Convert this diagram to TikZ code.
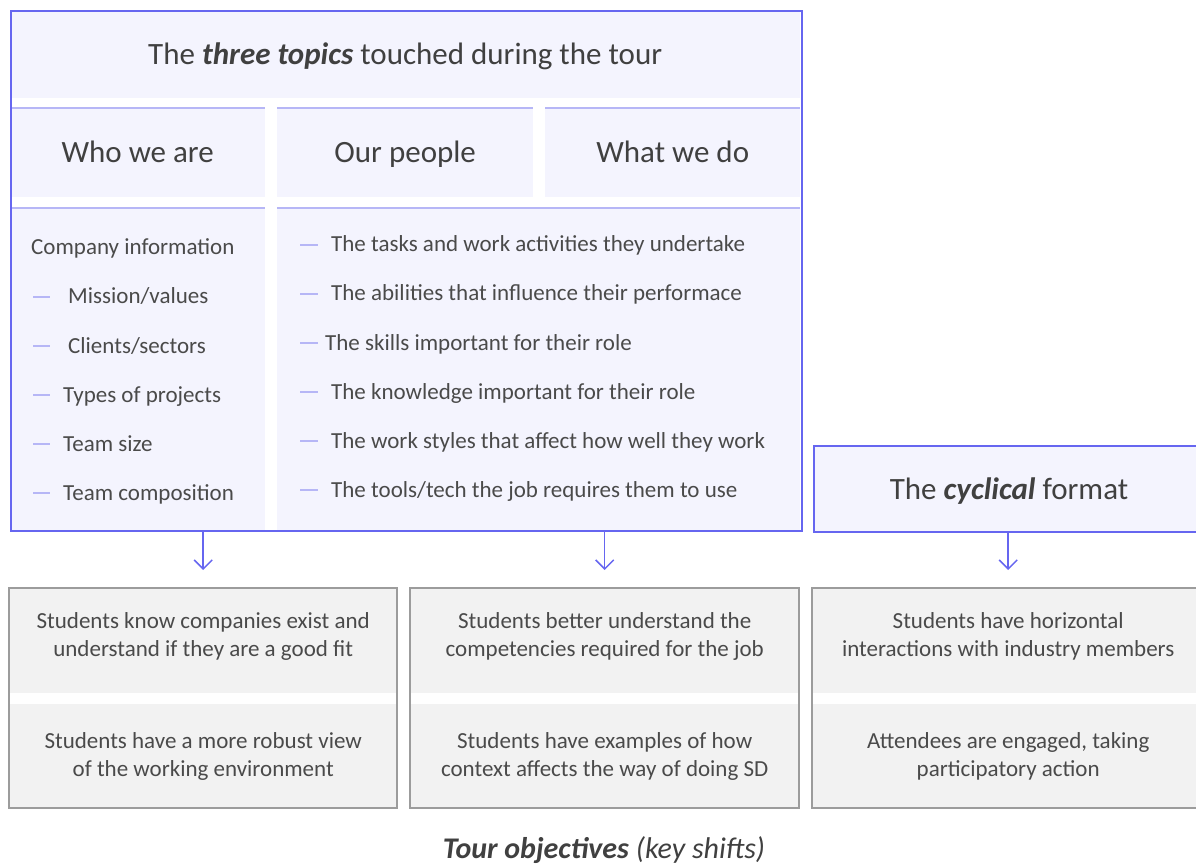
\documentclass[tikz,border=0pt]{standalone}
\usepackage{fontspec}
\setmainfont{Carlito}
\usetikzlibrary{positioning,arrows.meta}

\definecolor{tourblue}{HTML}{6666F0}
\definecolor{lavender}{HTML}{F4F4FE}
\definecolor{paleline}{HTML}{B6B6F6}
\definecolor{shiftgray}{HTML}{F2F2F2}
\definecolor{shiftline}{HTML}{9C9C9C}
\definecolor{textgray}{HTML}{404040}
\definecolor{listgray}{HTML}{4A4A4A}

\begin{document}
\begin{tikzpicture}[x=1pt, y=-1pt,
			cell/.style={fill=lavender, inner sep=0pt, anchor=north west, text=textgray},
			headfont/.style={font=\fontsize{31}{36}\selectfont, text height=21pt, text depth=1pt},
			listtext/.style={anchor=base west, inner sep=0pt, text=listgray, font=\fontsize{23}{27}\selectfont},
			dashmark/.style={draw=paleline, line width=1.5pt},
			shiftbox/.style={fill=shiftgray, inner sep=0pt, anchor=north west, align=center, text=listgray, font=\fontsize{23}{28}\selectfont},
			shiftframe/.style={draw=shiftline, line width=2pt},
			arrowline/.style={draw=tourblue, line width=1.5pt, -{Straight Barb[length=9pt, width=18pt]}, shorten >=18pt},
			]
			\useasboundingbox (0,0) rectangle (1196,866);
			
			%Topics block
			\node[cell, headfont, minimum width=790pt, minimum height=88pt] (title) at (10,10) {The \textbf{\textit{three topics}} touched during the tour};
			\node[cell, headfont, minimum width=255pt, minimum height=89pt] (who)  at (10,108)  {Who we are};
			\node[cell, headfont, minimum width=256pt, minimum height=89pt] (people) at (277,108) {Our people};
			\node[cell, headfont, minimum width=255pt, minimum height=89pt] (what) at (545,108) {What we do};
			\node[cell, minimum width=255pt, minimum height=322pt] (whobody)    at (10,208)  {};
			\node[cell, minimum width=523pt, minimum height=322pt] (peoplebody) at (277,208) {};
			\foreach \c in {who, people, what, whobody, peoplebody}
				\draw[paleline, line width=1.5pt] (\c.north west) -- (\c.north east);
			\node[draw=tourblue, line width=2pt, minimum width=791pt, minimum height=520pt, anchor=north west, inner sep=0pt] (topics) at (9.5,10) {};
			
			%Who we are list
			\node[listtext] (info) at (31,255) {Company information};
			\foreach \txt/\xpos [count=\i] in {{Mission/values}/68, {Clients/sectors}/68, {Types of projects}/63, {Team size}/63, {Team composition}/63}{
				\draw[dashmark] (33,248+49*\i) -- (50,248+49*\i);
				\node[listtext] (who\i) at (\xpos,255+49*\i) {\txt};
			}
			
			%Our people list
			\foreach \txt/\xpos [count=\i] in {{The tasks and work activities they undertake}/331, {The abilities that influence their performace}/331, {The skills important for their role}/325, {The knowledge important for their role}/331, {The work styles that affect how well they work}/331, {The tools/tech the job requires them to use}/331}{
				\draw[dashmark] (300,245+49*\i-49) -- (318,245+49*\i-49);
				\node[listtext] (people\i) at (\xpos,252+49*\i-49) {\txt};
			}
			
			%Cyclical format
			\node[cell, headfont, draw=tourblue, line width=2pt, minimum width=390pt, minimum height=86pt] (cycle) at (813,445) {The \textbf{\textit{cyclical}} format};
			
			%Key shifts
			\node[shiftbox, minimum width=388pt, minimum height=105pt, text depth=12pt] (shiftA1) at (9,588)   {Students know companies exist and\\understand if they are a good fit};
			\node[shiftbox, minimum width=388pt, minimum height=104pt] (shiftA2) at (9,704)   {Students have a more robust view\\of the working environment};
			\node[shiftbox, minimum width=389pt, minimum height=105pt, text depth=12pt] (shiftB1) at (410,588) {Students better understand the\\competencies required for the job};
			\node[shiftbox, minimum width=389pt, minimum height=104pt] (shiftB2) at (410,704) {Students have examples of how\\context affects the way of doing SD};
			\node[shiftbox, minimum width=392pt, minimum height=105pt, text depth=12pt] (shiftC1) at (812,588) {Students have horizontal\\interactions with industry members};
			\node[shiftbox, minimum width=392pt, minimum height=104pt] (shiftC2) at (812,704) {Attendees are engaged, taking\\participatory action};
			\foreach \s in {A, B, C}
				\draw[shiftframe] (shift\s1.north west) rectangle (shift\s2.south east);
			
			%Arrows
			\draw[arrowline] (shiftA1.north |- topics.south) -- (shiftA1.north);
			\draw[arrowline] (shiftB1.north |- topics.south) -- (shiftB1.north);
			\draw[arrowline] (shiftC1.north |- cycle.south) -- (shiftC1.north);
			
			%Caption
			\node[text=textgray, font=\fontsize{30}{34}\selectfont] (caption) at (604,850) {\textbf{\textit{Tour objectives}} \textit{(key shifts)}};
		\end{tikzpicture}
\end{document}
